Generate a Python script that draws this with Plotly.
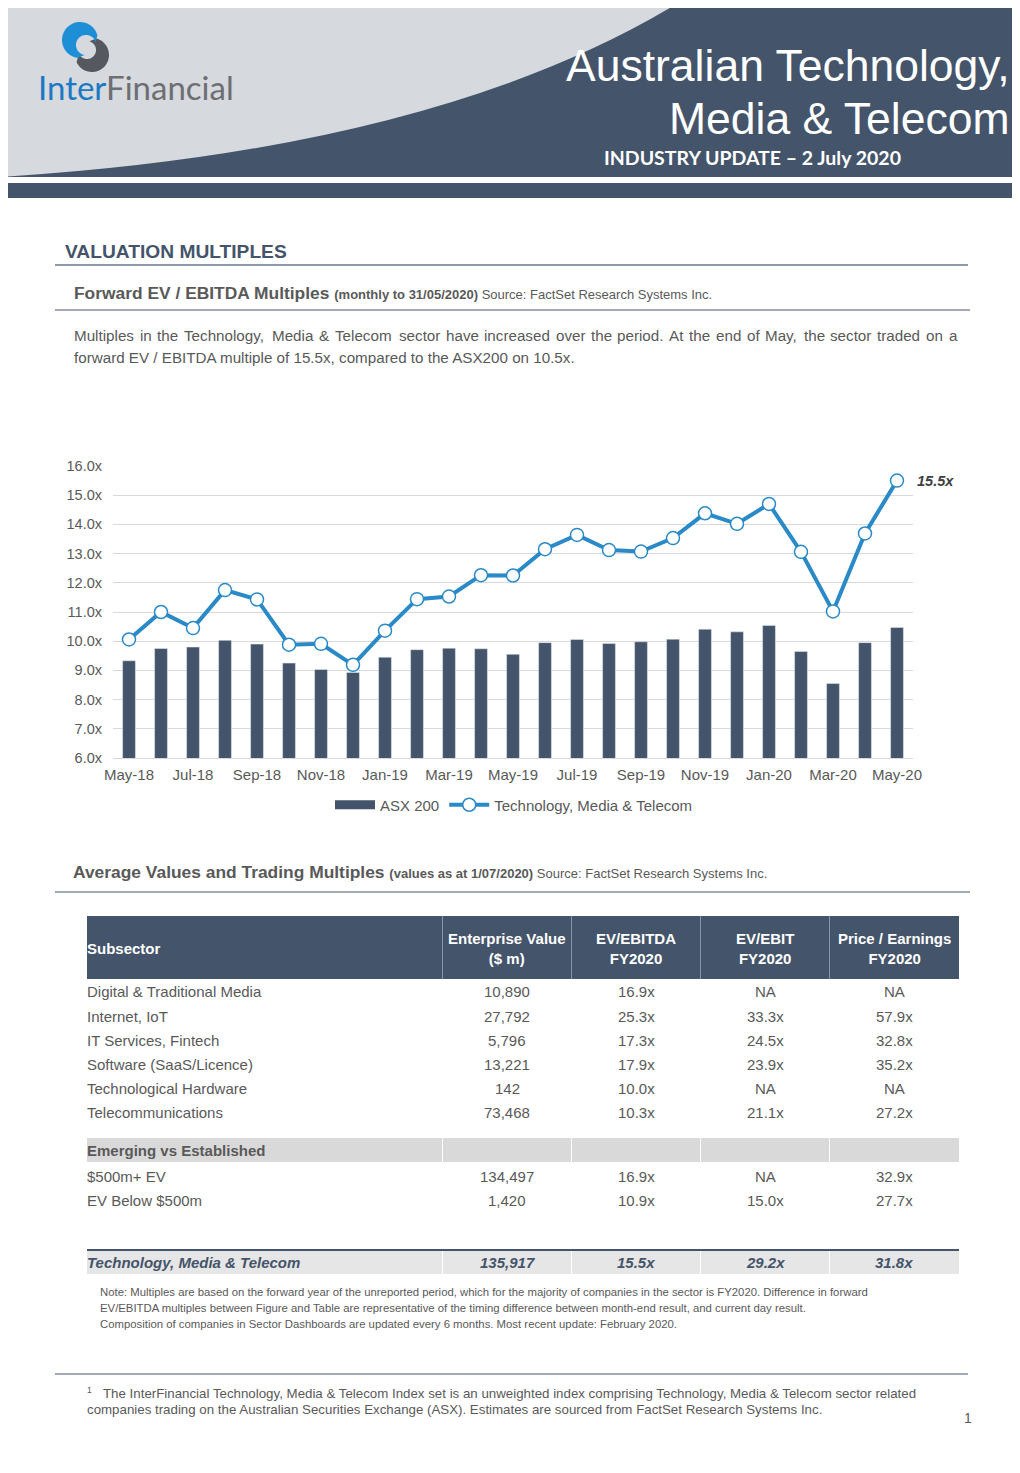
import math
import plotly.graph_objects as go

# The page body keeps an 8px margin, so the figure is drawn 8px in from the window edge.
OFF = 8
FW, FH = 1004, 1457
FONT = "Liberation Sans, Arial, sans-serif"
GREY_TXT = "#595959"
DARK = "#44546a"
BLUE = "#2a89c7"
HDR_LIGHT = "#d6d9de"

# ---------------- data ----------------
months = ["May-18", "Jun-18", "Jul-18", "Aug-18", "Sep-18", "Oct-18", "Nov-18", "Dec-18",
          "Jan-19", "Feb-19", "Mar-19", "Apr-19", "May-19", "Jun-19", "Jul-19", "Aug-19",
          "Sep-19", "Oct-19", "Nov-19", "Dec-19", "Jan-20", "Feb-20", "Mar-20", "Apr-20", "May-20"]
asx200 = [9.33, 9.75, 9.80, 10.03, 9.90, 9.25, 9.03, 8.93, 9.45, 9.71, 9.76, 9.74, 9.55,
          9.95, 10.06, 9.92, 9.98, 10.07, 10.41, 10.32, 10.54, 9.65, 8.55, 9.95, 10.47]
tmt = [10.06, 11.00, 10.45, 11.75, 11.43, 9.88, 9.91, 9.19, 10.36, 11.44, 11.53, 12.26, 12.25,
       13.15, 13.64, 13.12, 13.07, 13.53, 14.38, 14.02, 14.70, 13.06, 11.02, 13.69, 15.50]
x_ticks = months[::2]

table_cols = ["Enterprise Value<br>($ m)", "EV/EBITDA<br>FY2020", "EV/EBIT<br>FY2020",
              "Price / Earnings<br>FY2020"]
subsectors = ["Digital & Traditional Media", "Internet, IoT", "IT Services, Fintech",
              "Software (SaaS/Licence)", "Technological Hardware", "Telecommunications"]
sub_ev = ["10,890", "27,792", "5,796", "13,221", "142", "73,468"]
sub_ebitda = ["16.9x", "25.3x", "17.3x", "17.9x", "10.0x", "10.3x"]
sub_ebit = ["NA", "33.3x", "24.5x", "23.9x", "NA", "21.1x"]
sub_pe = ["NA", "57.9x", "32.8x", "35.2x", "NA", "27.2x"]

size_groups = ["$500m+ EV", "EV Below $500m"]
size_ev = ["134,497", "1,420"]
size_ebitda = ["16.9x", "10.9x"]
size_ebit = ["NA", "15.0x"]
size_pe = ["32.9x", "27.7x"]

total_label = "Technology, Media & Telecom"
total_vals = ["135,917", "15.5x", "29.2x", "31.8x"]

para_line1 = ("Multiples in the Technology, Media & Telecom sector have increased over the period. "
              "At the end of May, the sector traded on a")
para_line2 = "forward EV / EBITDA multiple of 15.5x, compared to the ASX200 on 10.5x."


def X(p):
    return (p - OFF) / FW


def Y(p):
    return 1 - (p - OFF) / FH


fig = go.Figure()
fig.add_trace(go.Bar(x=months, y=asx200, name="ASX 200", marker_color=DARK, width=0.4, showlegend=False))
# legend-only entry so the ASX 200 swatch is drawn as a wide bar, as in the original
fig.add_trace(go.Scatter(x=[None], y=[None], name="ASX 200", mode="lines",
                         line=dict(color=DARK, width=9), showlegend=True))
fig.add_trace(go.Scatter(x=months, y=tmt, name="Technology, Media & Telecom", mode="lines+markers",
                         line=dict(color=BLUE, width=4),
                         marker=dict(size=13, color="white", line=dict(color=BLUE, width=1.5))))

shapes = []
ann = []


def rect(x0, y0, x1, y1, fill, layer="below"):
    shapes.append(dict(type="rect", xref="paper", yref="paper", x0=X(x0), x1=X(x1), y0=Y(y1), y1=Y(y0),
                       fillcolor=fill, line=dict(width=0), layer=layer))


def hline(x0, x1, y, color, w=1):
    shapes.append(dict(type="line", xref="paper", yref="paper", x0=X(x0), x1=X(x1), y0=Y(y), y1=Y(y),
                       line=dict(color=color, width=w)))


def vline(x, y0, y1, color, w=1):
    shapes.append(dict(type="line", xref="paper", yref="paper", x0=X(x), x1=X(x), y0=Y(y0), y1=Y(y1),
                       line=dict(color=color, width=w)))


def text(x, y, s, size=15, color=GREY_TXT, anchor="left", family=FONT):
    dx = -2 if anchor == "left" else (2 if anchor == "right" else 0)
    ann.append(dict(xref="paper", yref="paper", x=X(x + dx), y=Y(y), text=s, showarrow=False,
                    xanchor=anchor, yanchor="middle", align=anchor,
                    font=dict(family=family, size=size, color=color)))


# Arial / Liberation Sans advance widths (1/1000 em) for justification of the paragraph
AW = {' ': 278, '.': 278, ',': 278, '&': 667, '/': 278}
for ch in "abdeghnopqu":
    AW[ch] = 556
for ch in "ckszvxy":
    AW[ch] = 500
AW.update({'f': 278, 't': 278, 'i': 222, 'j': 222, 'l': 222, 'm': 833, 'r': 333, 'w': 722,
           'M': 833, 'T': 611, 'A': 667, 'E': 667})


def word_w(w, size):
    return sum(AW.get(ch, 556) for ch in w) * size / 1000


def justify(line, x0, x1, y, size):
    words = line.split(" ")
    natural = sum(word_w(w, size) for w in words)
    gap = (x1 - x0 - natural) / (len(words) - 1)
    x = x0
    for w in words:
        text(x, y, w, size=size)
        x += word_w(w, size) + gap


def crescent(cx, cy, R, ix, iy, r, a0, a1, fill, n=40):
    pts = []
    for k in range(n + 1):
        a = math.radians(a0 + (a1 - a0) * k / n)
        pts.append((cx + R * math.cos(a), cy + R * math.sin(a)))
    for k in range(n + 1):
        a = math.radians(a1 + (a0 - a1) * k / n)
        pts.append((ix + r * math.cos(a), iy + r * math.sin(a)))
    path = "M " + " L ".join(f"{X(px)},{Y(py)}" for px, py in pts) + " Z"
    shapes.append(dict(type="path", xref="paper", yref="paper", path=path, fillcolor=fill,
                       line=dict(width=0), layer="below"))


# ---------------- header ----------------
rect(0, 0, 1020, 177, HDR_LIGHT)
shapes.append(dict(type="path", xref="paper", yref="paper",
                   path=f"M {X(0)},{Y(177)} Q {X(440)},{Y(150)} {X(683)},{Y(0)} L {X(1020)},{Y(0)} "
                        f"L {X(1020)},{Y(177)} Z",
                   fillcolor=DARK, line=dict(width=0), layer="below"))
rect(0, 183, 1020, 198, DARK)

# logo swirl (approximation of the S mark)
crescent(92, 55, 17, 87, 50, 9, -75, 155, "#55595f")
crescent(80, 40, 18, 86, 45, 10, -15, -262, "#1e8fd6")
text(38, 87, "<span style='color:#1b78c2'>Inter</span><span style='color:#6d6e71'>Financial</span>",
     size=33, family="Lato, Open Sans, sans-serif")

text(1010, 65, "Australian Technology,", size=44.5, color="white", anchor="right")
text(1010, 119, "Media & Telecom", size=44.5, color="white", anchor="right")
text(752, 157, "<b>INDUSTRY UPDATE – 2 July 2020</b>", size=19.5, color="white", anchor="center",
     family="Lato, Open Sans, sans-serif")

# ---------------- section 1 ----------------
text(65, 251, "<b>VALUATION MULTIPLES</b>", size=19.2, color=DARK)
hline(55, 968, 265, "#8e9aab", 2)
text(74, 293, "<b>Forward EV / EBITDA Multiples</b> <span style='font-size:13px'><b>(monthly to 31/05/2020)</b> "
              "Source: FactSet Research Systems Inc.</span>", size=17.4, color=GREY_TXT)
hline(55, 970, 310, DARK, 1)
justify(para_line1, 74, 957, 335, 15.2)
text(74, 357, para_line2, size=15.2)

# 15.5x label
ann.append(dict(xref="x", yref="y", x=months[-1], y=tmt[-1], text="<b><i>15.5x</i></b>", showarrow=False,
                xanchor="left", yanchor="middle", xshift=18,
                font=dict(family=FONT, size=14.5, color="#404040")))

# ---------------- section 2 ----------------
text(73, 872, "<b>Average Values and Trading Multiples</b> <span style='font-size:13px'><b>(values as at 1/07/2020)</b> "
              "Source: FactSet Research Systems Inc.</span>", size=17.4, color=GREY_TXT)
hline(55, 970, 892, DARK, 1)

# table
TL, TR = 87, 959
seps = [442.5, 571.5, 700.5, 829.5]
centers = [507, 636, 765, 894]
rect(TL, 916, TR, 979, DARK)
for s in seps:
    vline(s, 916, 979, "#8497b0", 1)
text(TL, 948, "<b>Subsector</b>", color="white")
for c, h in zip(centers, table_cols):
    text(c, 948, f"<b>{h}</b>", color="white", anchor="center")

row_y = [992, 1016, 1040, 1064, 1088, 1112]
for i, y in enumerate(row_y):
    text(TL, y, subsectors[i])
    for c, v in zip(centers, [sub_ev[i], sub_ebitda[i], sub_ebit[i], sub_pe[i]]):
        text(c, y, v, anchor="center")

rect(TL, 1138, TR, 1162, "#d9d9d9")
for s in seps:
    vline(s, 1138, 1162, "white", 1)
text(TL, 1150, "<b>Emerging vs Established</b>")
for i, y in enumerate([1176, 1200]):
    text(TL, y, size_groups[i])
    for c, v in zip(centers, [size_ev[i], size_ebitda[i], size_ebit[i], size_pe[i]]):
        text(c, y, v, anchor="center")

rect(TL, 1250, TR, 1274, "#e7e6e6")
for s in seps:
    vline(s, 1250, 1274, "white", 1)
hline(TL, TR, 1250, DARK, 2)
text(TL, 1262, f"<b><i>{total_label}</i></b>", color=DARK)
for c, v in zip(centers, total_vals):
    text(c, 1262, f"<b><i>{v}</i></b>", color=DARK, anchor="center")

text(100, 1292, "Note: Multiples are based on the forward year of the unreported period, which for the majority "
                "of companies in the sector is FY2020. Difference in forward", size=11.35)
text(100, 1308, "EV/EBITDA multiples between Figure and Table are representative of the timing difference "
                "between month-end result, and current day result.", size=11.35)
text(100, 1324, "Composition of companies in Sector Dashboards are updated every 6 months. "
                "Most recent update: February 2020.", size=11.35)

# footnote
hline(55, 968, 1374, DARK, 1)
text(87, 1390, "1", size=8.5)
text(103, 1393, "The InterFinancial Technology, Media & Telecom Index set is an unweighted index comprising "
                "Technology, Media & Telecom sector related", size=13.3)
text(87, 1409, "companies trading on the Australian Securities Exchange (ASX). Estimates are sourced from "
               "FactSet Research Systems Inc.", size=13.3)
text(972, 1418, "1", size=14, anchor="right")

fig.update_layout(
    width=FW, height=FH, autosize=False,
    margin=dict(l=0, r=0, t=0, b=0, pad=0, autoexpand=False),
    paper_bgcolor="white", plot_bgcolor="white",
    font=dict(family=FONT, size=15, color=GREY_TXT),
    shapes=shapes, annotations=ann,
    showlegend=True,
    legend=dict(orientation="h", x=X(514), xanchor="center", y=Y(805), yanchor="middle",
                font=dict(family=FONT, size=15, color=GREY_TXT), bgcolor="rgba(0,0,0,0)",
                itemwidth=40, traceorder="normal"),
    xaxis=dict(domain=[X(113), X(913)], type="category", categoryorder="array", categoryarray=months,
               tickvals=x_ticks, ticktext=x_ticks, showgrid=False, showline=True, linecolor="#d9d9d9",
               linewidth=1, ticks="", tickfont=dict(size=15, color=GREY_TXT), range=[-0.5, 24.5],
               ticklabelstandoff=3, automargin=False),
    yaxis=dict(domain=[Y(758), Y(466)], range=[6, 16], dtick=1, tickformat=".1f", ticksuffix="x",
               showgrid=True, gridcolor="#d9d9d9", gridwidth=1, zeroline=False, ticks="",
               tickfont=dict(size=14.5, color=GREY_TXT), ticklabelstandoff=10, automargin=False),
)

fig.write_html("out.html", config={"responsive": False, "displayModeBar": False})
